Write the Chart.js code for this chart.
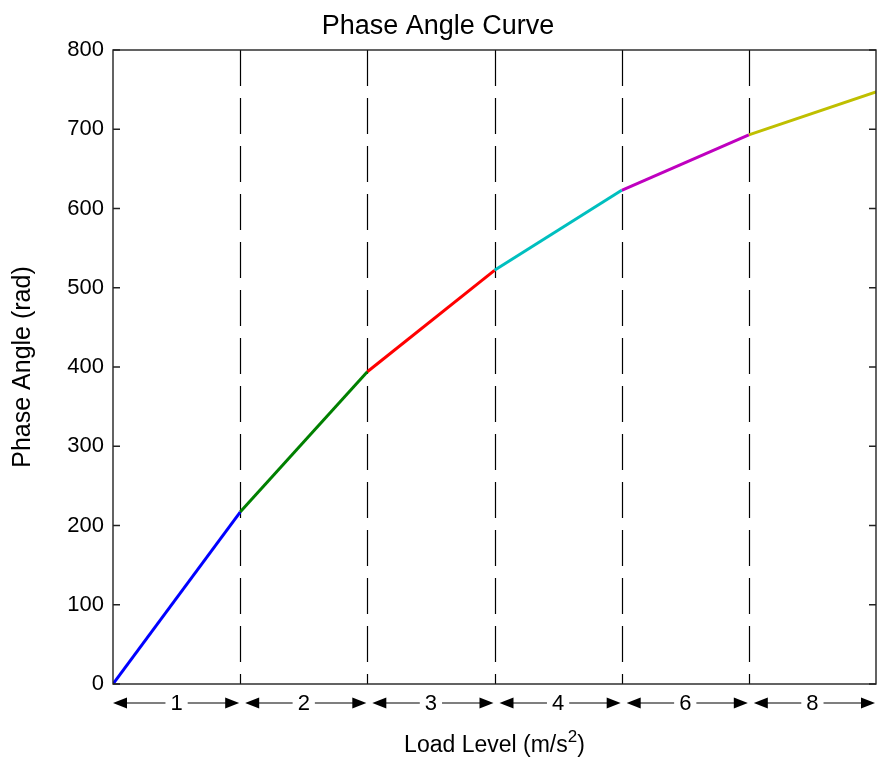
<!DOCTYPE html>
<html>
<head>
<meta charset="utf-8">
<script src="https://cdn.jsdelivr.net/npm/chart.js"></script>
<style>
  html, body { margin: 0; padding: 0; background: #fff; }
</style>
</head>
<body>
<canvas id="chart" width="878" height="760"></canvas>
<script>
// data
const loadLevels = ["1", "2", "3", "4", "6", "8"];       // label of each segment
const boundaryX = [0, 1, 2, 3, 4, 5, 6];                  // segment edges on the x scale
const phaseAngle = [0, 217, 394, 522, 623, 693, 747];     // curve value at each edge
const segmentColors = ["#0000ff", "#008000", "#ff0000", "#00bfbf", "#bf00bf", "#bfbf00"];
const yTicks = [0, 100, 200, 300, 400, 500, 600, 700, 800];

const FONT = "'Liberation Sans', Arial, sans-serif";

const datasets = loadLevels.map((lvl, i) => ({
    label: lvl,
    data: [
        { x: boundaryX[i], y: phaseAngle[i] },
        { x: boundaryX[i + 1], y: phaseAngle[i + 1] }
    ],
    borderColor: segmentColors[i],
    borderWidth: 3,
    pointRadius: 0,
    tension: 0
}));

// matlab style box, inner ticks, dashed separators and arrow row
const matlabFrame = {
    id: "matlabFrame",
    beforeDatasetsDraw(chart) {
        const { ctx, chartArea, scales } = chart;
        ctx.save();
        ctx.strokeStyle = "#000";
        ctx.lineWidth = 1.2;
        ctx.setLineDash([36, 12]);
        for (let i = 1; i < boundaryX.length - 1; i++) {
            const x = Math.round(scales.x.getPixelForValue(boundaryX[i])) + 0.5;
            ctx.beginPath();
            ctx.moveTo(x, chartArea.top);
            ctx.lineTo(x, chartArea.bottom);
            ctx.stroke();
        }
        ctx.restore();
    },
    afterDatasetsDraw(chart) {
        const { ctx, chartArea, scales } = chart;
        const { left, right, top, bottom } = chartArea;
        ctx.save();
        ctx.strokeStyle = "#222";
        ctx.lineWidth = 1.4;
        ctx.strokeRect(left, top, right - left, bottom - top);

        // inner ticks left and right
        yTicks.forEach(v => {
            const y = scales.y.getPixelForValue(v);
            ctx.beginPath();
            ctx.moveTo(left, y); ctx.lineTo(left + 7, y);
            ctx.moveTo(right, y); ctx.lineTo(right - 7, y);
            ctx.stroke();
        });

        // double arrows under the axis
        const ay = bottom + 19;
        ctx.font = "22px " + FONT;
        ctx.textAlign = "center";
        ctx.textBaseline = "middle";
        ctx.lineWidth = 1.2;
        ctx.strokeStyle = "#000";
        ctx.fillStyle = "#000";
        loadLevels.forEach((lvl, i) => {
            const x0 = scales.x.getPixelForValue(boundaryX[i]) + (i === 0 ? 0 : 5);
            const x1 = scales.x.getPixelForValue(boundaryX[i + 1]) - 1;
            const cx = (scales.x.getPixelForValue(boundaryX[i]) + scales.x.getPixelForValue(boundaryX[i + 1])) / 2;
            const half = ctx.measureText(lvl).width / 2 + 5;
            ctx.beginPath();
            ctx.moveTo(x0 + 12, ay); ctx.lineTo(cx - half, ay);
            ctx.moveTo(cx + half, ay); ctx.lineTo(x1 - 12, ay);
            ctx.stroke();
            ctx.beginPath();
            ctx.moveTo(x0, ay); ctx.lineTo(x0 + 14, ay - 5.5); ctx.lineTo(x0 + 14, ay + 5.5); ctx.closePath();
            ctx.fill();
            ctx.beginPath();
            ctx.moveTo(x1, ay); ctx.lineTo(x1 - 14, ay - 5.5); ctx.lineTo(x1 - 14, ay + 5.5); ctx.closePath();
            ctx.fill();
            ctx.fillText(lvl, cx, ay + 1);
        });

        // x axis title with a real superscript
        const main = "Load Level (m/s", sup = "2", tail = ")";
        ctx.textAlign = "left";
        ctx.textBaseline = "alphabetic";
        ctx.font = "23px " + FONT;
        const wMain = ctx.measureText(main).width, wTail = ctx.measureText(tail).width;
        ctx.font = "17px " + FONT;
        const wSup = ctx.measureText(sup).width;
        let tx = (left + right) / 2 - (wMain + wSup + wTail) / 2;
        const by = 752;
        ctx.font = "23px " + FONT;
        ctx.fillText(main, tx, by);
        tx += wMain;
        ctx.font = "17px " + FONT;
        ctx.fillText(sup, tx, by - 10);
        tx += wSup;
        ctx.font = "23px " + FONT;
        ctx.fillText(tail, tx, by);
        ctx.restore();
    }
};

new Chart(document.getElementById("chart"), {
    type: "line",
    data: { datasets: datasets },
    plugins: [matlabFrame],
    options: {
        responsive: false,
        animation: false,
        layout: { padding: { left: 0, right: 2, top: 0, bottom: 0 } },
        plugins: {
            legend: { display: false },
            tooltip: { enabled: false },
            title: {
                display: true,
                text: "Phase Angle Curve",
                color: "#000",
                font: { family: FONT, size: 27, weight: "normal", lineHeight: 1.2 },
                padding: { top: 10, bottom: 7.6 }
            }
        },
        scales: {
            x: {
                type: "linear",
                min: 0,
                max: 6,
                ticks: { display: false },
                grid: { display: false, drawTicks: false },
                border: { display: false },
                afterFit: s => { s.height = 76; }
            },
            y: {
                min: 0,
                max: 800,
                ticks: {
                    stepSize: 100,
                    color: "#000",
                    padding: 9,
                    font: { family: FONT, size: 22 }
                },
                grid: { display: false, drawTicks: false },
                border: { display: false },
                title: {
                    display: true,
                    text: "Phase Angle (rad)",
                    color: "#000",
                    font: { family: FONT, size: 25, lineHeight: 1.2 },
                    padding: { top: 8, bottom: 0 }
                },
                afterFit: s => { s.width = 113; }
            }
        }
    }
});
</script>
</body>
</html>
